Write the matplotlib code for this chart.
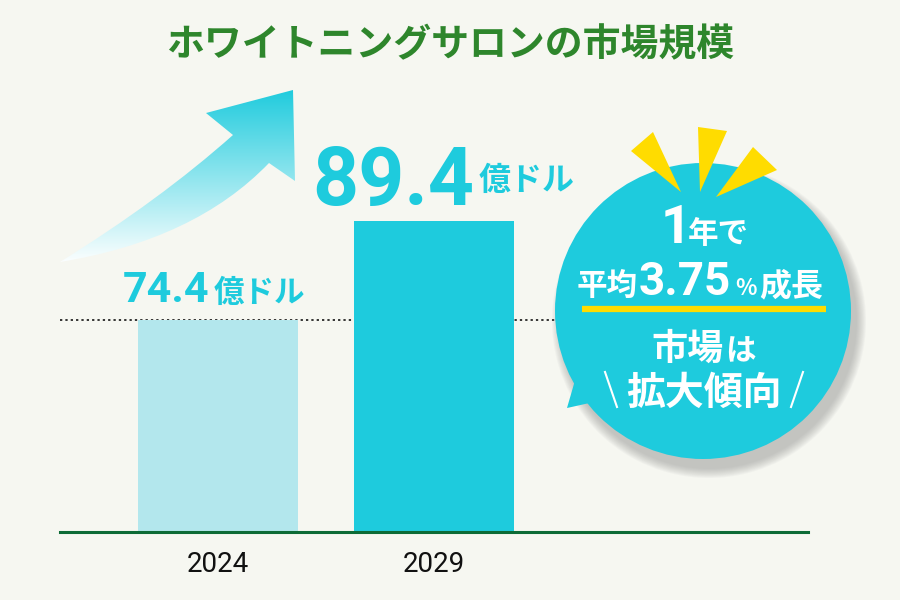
import numpy as np
import matplotlib
matplotlib.use("Agg")
import matplotlib.pyplot as plt
from matplotlib.path import Path
from matplotlib.patches import PathPatch, Circle, Polygon

plt.rcParams['font.family'] = ['Noto Sans CJK JP', 'DejaVu Sans']

# data
years = ["2024", "2029"]
values = [74.4, 89.4]
unit = "億ドル"
title = "ホワイトニングサロンの市場規模"

BG = "#f6f7f1"
CYAN = "#1ecbdd"
LIGHT = "#b3e7ed"
GREEN = "#2e862c"
YELLOW = "#ffdc00"

fig = plt.figure(figsize=(9, 6), dpi=100, facecolor=BG)

# bar axes (pixel box: x 60..808, y 100..532 from top)
ax = fig.add_axes([60 / 900, 68 / 600, 748 / 900, 432 / 600])
ax.set_facecolor("none")
x = np.arange(len(years))
ax.bar(x, values, width=0.741, color=[LIGHT, CYAN], zorder=2)
ax.axhline(values[0], color="black", lw=1.1, ls=(0, (1.5, 2)), zorder=1)
ax.set_xlim(-0.731, 2.731)
ax.set_ylim(42.3, 107.75)
for s in ["top", "right", "left"]:
    ax.spines[s].set_visible(False)
ax.spines["bottom"].set_color("#0d6b36")
ax.spines["bottom"].set_linewidth(2.2)
ax.set_yticks([])
ax.set_xticks(x, years)
ax.tick_params(axis="x", length=0, pad=14, labelsize=20, labelcolor="#111111")
for lab in ax.get_xticklabels():
    lab.set_family(['Liberation Sans Narrow', 'Roboto'])

# value labels
num_sizes = [31, 58]
unit_sizes = [22, 23]
splits = [-6, 43]
lifts = [18, 16]
for i, v in enumerate(values):
    ax.annotate(f"{v:.1f}", xy=(i, v), xytext=(splits[i] - 3, lifts[i]),
                textcoords="offset pixels", ha="right", va="baseline",
                fontsize=num_sizes[i], fontweight="bold", color=CYAN,
                family="Roboto")
    ax.annotate(unit, xy=(i, v), xytext=(splits[i] + 2, lifts[i] + (0 if i == 0 else 15)),
                textcoords="offset pixels", ha="left", va="baseline",
                fontsize=unit_sizes[i], fontweight="bold", color=CYAN)

# overlay in pixel coordinates
ov = fig.add_axes([0, 0, 1, 1], zorder=5)
ov.set_xlim(0, 900)
ov.set_ylim(600, 0)
ov.axis("off")
ov.set_facecolor("none")

ov.text(450, 45, title, ha="center", va="center", fontsize=27.3,
        fontweight="bold", color=GREEN)

# gradient arrow
verts = [(60, 262), (160, 200), (233, 135), (206, 113), (293, 90),
         (295, 181), (269, 163), (195, 240), (60, 262), (60, 262)]
codes = [Path.MOVETO, Path.CURVE3, Path.CURVE3, Path.LINETO, Path.LINETO,
         Path.LINETO, Path.LINETO, Path.CURVE3, Path.CURVE3, Path.CLOSEPOLY]
arrow = PathPatch(Path(verts, codes), facecolor="none", edgecolor="none")
ov.add_patch(arrow)
top = np.array([0x1e, 0xcb, 0xdd]) / 255
bot = np.array([1.0, 1.0, 1.0])
t = np.linspace(0, 1, 200)[:, None]
grad = (top[None, :] * (1 - t) + bot[None, :] * t)[:, None, :]
grad = np.repeat(grad, 2, axis=1)
img = ov.imshow(grad, extent=(55, 300, 265, 88), aspect="auto", zorder=3)
img.set_clip_path(arrow)
ov.set_xlim(0, 900)
ov.set_ylim(600, 0)

# bubble
cx, cy, r = 703, 311, 148
for k in range(10):
    ov.add_patch(Circle((cx + 6, cy + 10), r + 9 - k, color="#8f8f8f",
                        alpha=0.06, lw=0, zorder=4))
ov.add_patch(Polygon([(567, 408), (578, 370), (612, 398)], closed=True,
                     color=CYAN, lw=0, zorder=5))
ov.add_patch(Circle((cx, cy), r, color=CYAN, lw=0, zorder=5))

spikes = [[(631, 151), (653, 132), (681, 192)],
          [(698, 127), (727, 131), (700, 192)],
          [(753, 147), (777, 170), (716, 197)]]
for sp in spikes:
    ov.add_patch(Polygon(sp, closed=True, color=YELLOW, lw=0, zorder=6))

W = "white"
z = 7
ov.text(661, 243, "1", fontsize=38, fontweight="bold", color=W, family="Roboto",
        ha="left", va="baseline", zorder=z)
ov.text(688, 243, "年で", fontsize=22, fontweight="bold", color=W,
        ha="left", va="baseline", zorder=z)
ov.text(577, 295, "平均", fontsize=22, fontweight="bold", color=W,
        ha="left", va="baseline", zorder=z)
ov.text(639, 295, "3.75", fontsize=33, fontweight="bold", color=W, family="Roboto",
        ha="left", va="baseline", zorder=z)
ov.text(735, 295, "%", fontsize=16, fontweight="bold", color=W,
        ha="left", va="baseline", zorder=z)
ov.text(759, 295, "成長", fontsize=23, fontweight="bold", color=W,
        ha="left", va="baseline", zorder=z)
ov.plot([582, 826], [309, 309], color=YELLOW, lw=4.5, solid_capstyle="butt", zorder=z)
ov.text(651, 360, "市場", fontsize=26, fontweight="bold", color=W,
        ha="left", va="baseline", zorder=z)
ov.text(725, 360, "は", fontsize=22, fontweight="bold", color=W,
        ha="left", va="baseline", zorder=z)
ov.text(704, 405, "拡大傾向", fontsize=28, fontweight="bold", color=W,
        ha="center", va="baseline", zorder=z)
ov.plot([605, 617], [372, 407], color=W, lw=1.5, zorder=z)
ov.plot([803, 791], [372, 407], color=W, lw=1.5, zorder=z)

fig.savefig("out.png", dpi=100, facecolor=BG)
